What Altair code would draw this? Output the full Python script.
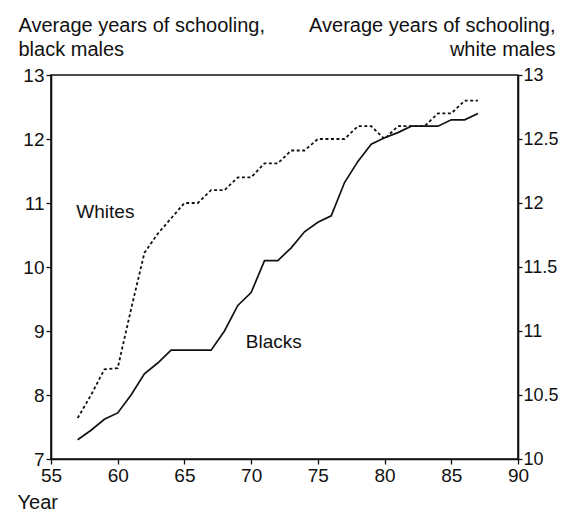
import altair as alt
import pandas as pd

FONT = "Liberation Sans"
INK = "#111111"

# ---- data ----
years = list(range(57, 88))
black = [7.3, 7.45, 7.62, 7.72, 8.0, 8.33, 8.5, 8.7, 8.7, 8.7, 8.7,
         9.0, 9.4, 9.6, 10.1, 10.1, 10.3, 10.55, 10.7, 10.8, 11.32,
         11.65, 11.92, 12.02, 12.1, 12.2, 12.2, 12.2, 12.3, 12.3, 12.4]
white = [10.32, 10.5, 10.7, 10.71, 11.17, 11.61, 11.76, 11.88, 12.0, 12.0, 12.1,
         12.1, 12.2, 12.2, 12.31, 12.31, 12.41, 12.41, 12.5, 12.5, 12.5,
         12.6, 12.6, 12.5, 12.6, 12.6, 12.6, 12.7, 12.7, 12.8, 12.8]

x_ticks = [55, 60, 65, 70, 75, 80, 85, 90]
left_ticks = [7, 8, 9, 10, 11, 12, 13]
right_ticks = [10, 10.5, 11, 11.5, 12, 12.5, 13]
left_title = ["Average years of schooling,", "black males"]
right_title = ["Average years of schooling,", "white males"]
x_title = "Year"

label_text = ["Whites", "Blacks"]
label_year = [56.9, 69.6]
label_value = [10.86, 8.83]   # on the black-males (left) scale

df = pd.DataFrame({"year": years, "black": black, "white": white})
lab = pd.DataFrame({"year": label_year, "black": label_value, "text": label_text})

x_enc = alt.X(
    "year:Q",
    scale=alt.Scale(domain=[55, 90], nice=False, zero=False),
    axis=alt.Axis(values=x_ticks, format="d", title=x_title, titleAngle=0,
                  titleAlign="left", titleBaseline="alphabetic",
                  titleX=-34, titleY=49),
)

y_left = alt.Y(
    "black:Q",
    scale=alt.Scale(domain=[7, 13], nice=False, zero=False),
    axis=alt.Axis(orient="left", values=left_ticks, format="d", title=left_title,
                  titleAngle=0, titleAlign="left", titleBaseline="alphabetic",
                  titleX=-33, titleY=-44),
)

y_right = alt.Y(
    "white:Q",
    scale=alt.Scale(domain=[10, 13], nice=False, zero=False),
    axis=alt.Axis(orient="right", values=right_ticks, format="~g", title=right_title,
                  titleAngle=0, titleAlign="right", titleBaseline="alphabetic",
                  titleX=37, titleY=-44, tickSize=4, labelPadding=1,
                  labelFontSize=18),
)

black_line = alt.Chart(df).mark_line(color=INK, strokeWidth=1.7).encode(x=x_enc, y=y_left)
labels = alt.Chart(lab).mark_text(
    align="left", baseline="middle", font=FONT, fontSize=19, color=INK
).encode(x=x_enc, y=y_left, text="text:N")

white_line = alt.Chart(df).mark_line(
    color=INK, strokeWidth=1.8, strokeDash=[3, 2.5]
).encode(x=x_enc, y=y_right)

chart = (
    alt.layer(alt.layer(black_line, labels), white_line)
    .resolve_scale(y="independent")
    .properties(
        width=467,
        height=384,
        padding={"left": 43, "top": 67, "right": 42, "bottom": 56},
        autosize=alt.AutoSizeParams(type="none"),
        background="white",
    )
    .configure_axis(
        labelFont=FONT, labelFontSize=19, labelColor=INK,
        titleFont=FONT, titleFontSize=20, titleFontWeight="normal", titleColor=INK,
        titleLineHeight=24,
        domainColor=INK, domainWidth=1.6, tickColor=INK, tickWidth=1.3,
        tickSize=5, labelPadding=2, grid=False, labelFlush=False,
    )
    .configure_view(stroke=INK, strokeWidth=1.6)
)

chart.save("out.html", embed_options={"renderer": "svg", "actions": False})
